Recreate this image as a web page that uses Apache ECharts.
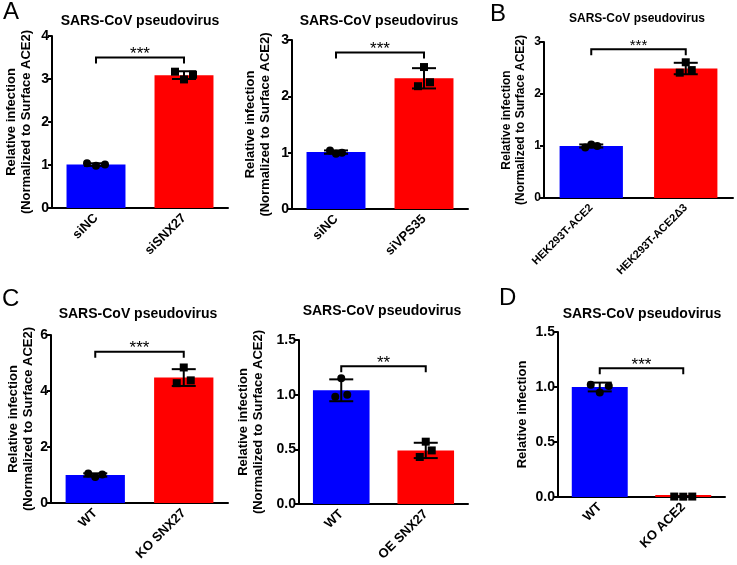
<!DOCTYPE html>
<html><head><meta charset="utf-8">
<script src="https://cdn.jsdelivr.net/npm/echarts@6/dist/echarts.min.js"></script>
<style>html,body{margin:0;padding:0;background:#fff}#c{width:737px;height:565px}</style>
</head><body><div id="c"></div>
<script>
// ---------- data ----------
const catsA1 = ['siNC', 'siSNX27'];
const catsA2 = ['siNC', 'siVPS35'];
const catsB  = ['HEK293T-ACE2', 'HEK293T-ACE2Δ3'];
const catsC1 = ['WT', 'KO SNX27'];
const catsC2 = ['WT', 'OE SNX27'];
const catsD  = ['WT', 'KO ACE2'];

const meanA1 = [1.01, 3.09];  const sdA1 = [0.03, 0.09];
const meanA2 = [1.01, 2.32];  const sdA2 = [0.03, 0.18];
const meanB  = [1.00, 2.49];  const sdB  = [0.03, 0.11];
const meanC1 = [1.00, 4.48];  const sdC1 = [0.06, 0.30];
const meanC2 = [1.04, 0.49];  const sdC2 = [0.10, 0.07];
const meanD  = [1.00, 0.004]; const sdD  = [0.04, 0.001];

const ptsA1 = [[1.04, 0.98, 1.01], [3.17, 2.99, 3.10]];
const ptsA2 = [[1.04, 0.98, 1.00], [2.18, 2.52, 2.25]];
const ptsB  = [[0.97, 1.03, 1.00], [2.41, 2.61, 2.46]];
const ptsC1 = [[1.05, 0.93, 1.02], [4.28, 4.84, 4.38]];
const ptsC2 = [[0.98, 1.15, 1.00], [0.43, 0.57, 0.49]];
const ptsD  = [[1.02, 0.95, 1.01], [0.004, 0.003, 0.004]];

const yMaxes     = [4, 3, 3, 6, 1.5, 1.5];
const yIntervals = [1, 1, 1, 2, 0.5, 0.5];
const yDecimals  = [0, 0, 0, 0, 1, 1];
const sigLevels  = [3.5, 2.78, 2.86, 5.4, 1.26, 1.17];
const sigLabels  = ['***', '***', '***', '***', '**', '***'];

const panelTitle = 'SARS-CoV pseudovirus';
const yNameLong  = 'Relative infection\n(Normalized to Surface ACE2)';
const yNameShort = 'Relative infection';
const panelLetters = ['A', 'B', 'C', 'D'];

// ---------- layout / style ----------
const FONT = 'Liberation Sans, Arial, Helvetica, sans-serif';
const BLUE = '#0000ff', RED = '#ff0000';
const panels = [
  {cats: catsA1, mean: meanA1, sd: sdA1, pts: ptsA1, yName: yNameLong},
  {cats: catsA2, mean: meanA2, sd: sdA2, pts: ptsA2, yName: yNameLong},
  {cats: catsB,  mean: meanB,  sd: sdB,  pts: ptsB,  yName: yNameLong},
  {cats: catsC1, mean: meanC1, sd: sdC1, pts: ptsC1, yName: yNameLong},
  {cats: catsC2, mean: meanC2, sd: sdC2, pts: ptsC2, yName: yNameLong},
  {cats: catsD,  mean: meanD,  sd: sdD,  pts: ptsD,  yName: yNameShort}
];
const layout = [
  {left: 52,  top: 36,  width: 176, height: 172, nameGap: 18, nameSize: 13, tickSize: 14, xSize: 13, tx: 140, ty: 14, ts: 14, jit: 9,  star: 17},
  {left: 292, top: 40,  width: 176, height: 169, nameGap: 19, nameSize: 13, tickSize: 14, xSize: 13, tx: 379, ty: 14, ts: 14, jit: 6,  star: 17},
  {left: 544, top: 42,  width: 189, height: 156, nameGap: 16, nameSize: 12, tickSize: 12, xSize: 11, tx: 637, ty: 13, ts: 12, jit: 6,  star: 15},
  {left: 51,  top: 335, width: 177, height: 168, nameGap: 15, nameSize: 13, tickSize: 14, xSize: 13, tx: 138, ty: 307, ts: 14, jit: 7, star: 17},
  {left: 299, top: 340, width: 169, height: 164, nameGap: 33, nameSize: 13, tickSize: 14, xSize: 13, tx: 382, ty: 304, ts: 14, jit: 6, star: 17},
  {left: 558, top: 332, width: 167, height: 165, nameGap: 28, nameSize: 13, tickSize: 14, xSize: 13, tx: 642, ty: 307, ts: 14, jit: 9, star: 17}
];
const letterPos = [[3, 0], [490, 2], [2, 287], [499, 286]];

const grids = [], xAxes = [], yAxes = [], series = [], titles = [];

panels.forEach((p, i) => {
  const L = layout[i];
  grids.push({left: L.left, top: L.top, width: L.width, height: L.height, containLabel: false});
  xAxes.push({
    type: 'category', gridIndex: i, data: p.cats,
    axisLine: {lineStyle: {color: '#000', width: 2}},
    axisTick: {alignWithLabel: true, length: 5, lineStyle: {color: '#000', width: 2}},
    axisLabel: {rotate: 45, interval: 0, margin: 8, color: '#000', fontWeight: 'bold', fontSize: L.xSize, fontFamily: FONT},
    splitLine: {show: false}
  });
  yAxes.push({
    type: 'value', gridIndex: i, min: 0, max: yMaxes[i], interval: yIntervals[i],
    name: p.yName, nameLocation: 'middle', nameRotate: 90, nameGap: L.nameGap,
    nameTextStyle: {color: '#000', fontWeight: 'bold', fontSize: L.nameSize, fontFamily: FONT, lineHeight: L.nameSize + 2},
    axisLine: {show: true, lineStyle: {color: '#000', width: 2}},
    axisTick: {show: true, length: 4, lineStyle: {color: '#000', width: 2}},
    axisLabel: {margin: 3, color: '#000', fontWeight: 'bold', fontSize: L.tickSize, fontFamily: FONT,
      formatter: v => v.toFixed(yDecimals[i])},
    splitLine: {show: false}
  });
  titles.push({text: panelTitle, left: L.tx, top: L.ty, textAlign: 'center', padding: 0,
    textStyle: {color: '#000', fontWeight: 'bold', fontSize: L.ts, fontFamily: FONT}});

  series.push({
    type: 'bar', xAxisIndex: i, yAxisIndex: i, barCategoryGap: '33%',
    barMinHeight: i === 5 ? 2 : 0,
    data: p.mean.map((m, c) => ({value: m, itemStyle: {color: c === 0 ? BLUE : RED}})),
    z: 2, silent: true
  });
  series.push({
    type: 'custom', xAxisIndex: i, yAxisIndex: i, z: 3, silent: true,
    data: p.mean.map((m, c) => [c, m, p.sd[c]]),
    renderItem: (params, api) => {
      const c = api.value(0), m = api.value(1), s = api.value(2);
      const t = api.coord([c, m + s]), b = api.coord([c, m - s]);
      const cap = 12, st = {stroke: '#000', lineWidth: 2};
      return {type: 'group', children: [
        {type: 'line', shape: {x1: t[0], y1: t[1], x2: b[0], y2: b[1]}, style: st},
        {type: 'line', shape: {x1: t[0] - cap, y1: t[1], x2: t[0] + cap, y2: t[1]}, style: st},
        {type: 'line', shape: {x1: b[0] - cap, y1: b[1], x2: b[0] + cap, y2: b[1]}, style: st}
      ]};
    }
  });
  const ptData = [];
  p.pts.forEach((arr, c) => arr.forEach((v, j) => ptData.push([c, v, j])));
  series.push({
    type: 'custom', xAxisIndex: i, yAxisIndex: i, z: 4, silent: true,
    data: ptData,
    renderItem: (params, api) => {
      const c = api.value(0), v = api.value(1), j = api.value(2);
      const pt = api.coord([c, v]);
      const x = pt[0] + (j - 1) * L.jit, y = pt[1];
      if (c === 0) return {type: 'circle', shape: {cx: x, cy: y, r: 4}, style: {fill: '#000'}};
      return {type: 'rect', shape: {x: x - 4, y: y - 4, width: 8, height: 8}, style: {fill: '#000'}};
    }
  });
  series.push({
    type: 'custom', xAxisIndex: i, yAxisIndex: i, z: 5, silent: true,
    data: [[0, sigLevels[i], 1]],
    renderItem: (params, api) => {
      const lv = api.value(1);
      const a = api.coord([0, lv]), b = api.coord([1, lv]);
      return {type: 'group', children: [
        {type: 'polyline', shape: {points: [[a[0], a[1] + 6], [a[0], a[1]], [b[0], b[1]], [b[0], b[1] + 6]]},
          style: {stroke: '#000', lineWidth: 2, fill: null}},
        {type: 'text', style: {text: sigLabels[i], x: (a[0] + b[0]) / 2, y: a[1] - 3,
          textAlign: 'center', textVerticalAlign: 'middle', fill: '#000', font: L.star + 'px ' + FONT}}
      ]};
    }
  });
});

panelLetters.forEach((t, k) => {
  titles.push({text: t, left: letterPos[k][0], top: letterPos[k][1], padding: 0,
    textStyle: {color: '#000', fontWeight: 'normal', fontSize: 24, fontFamily: FONT}});
});

const chart = echarts.init(document.getElementById('c'), null, {renderer: 'canvas'});
chart.setOption({
  animation: false,
  backgroundColor: '#fff',
  title: titles,
  grid: grids, xAxis: xAxes, yAxis: yAxes, series: series
});
</script>
</body></html>
